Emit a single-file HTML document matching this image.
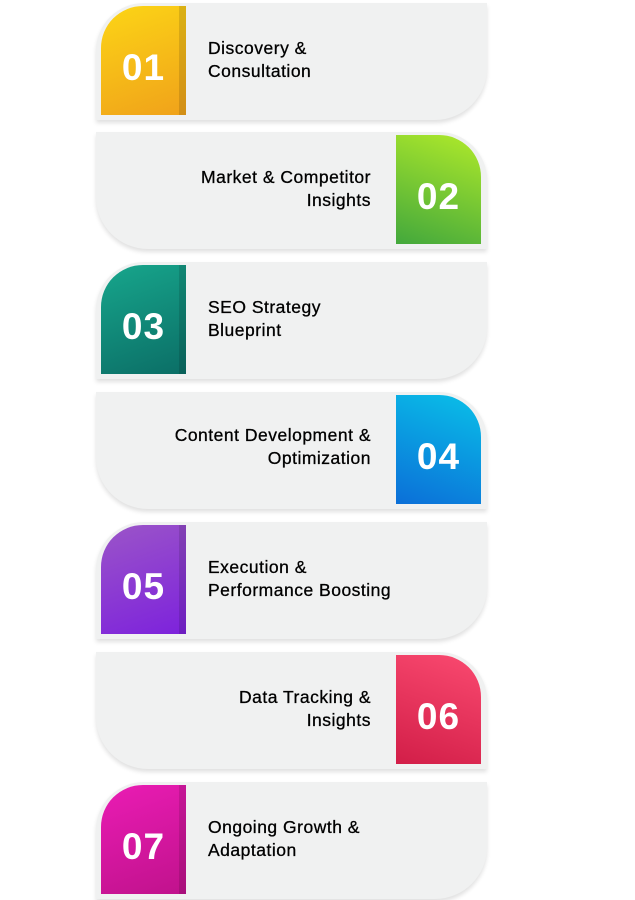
<!DOCTYPE html>
<html><head><meta charset="utf-8"><style>
html,body{margin:0;padding:0;background:#fff;overflow:hidden;}
body{width:635px;height:900px;position:relative;overflow:hidden;font-family:"Liberation Sans",sans-serif;}
.card{position:absolute;left:96px;width:391px;height:117px;background:#f0f1f1;box-shadow:0 3px 4px rgba(0,0,0,0.12);}
.odd{border-radius:48px 0 52px 0;}
.even{border-radius:0 48px 0 52px;}
.blk{position:absolute;width:85px;height:109px;color:#fff;font-weight:bold;font-size:37px;letter-spacing:1px;text-align:center;line-height:109px;}
.odd .blk{left:5px;top:3px;border-radius:42px 0 0 0;box-shadow:inset -7px 0 0 rgba(0,0,0,0.12);}
.even .blk{left:300px;top:3px;border-radius:0 42px 0 0;}
.blk span{position:relative;top:7px;}
.txt{position:absolute;font-size:17.5px;line-height:23px;color:#000;letter-spacing:0.5px;top:34px;-webkit-text-stroke:0.3px #000;}
.odd .txt{left:112px;text-align:left;}
.even .txt{right:116px;text-align:right;}
</style></head><body>
<div class="card odd" style="top:3px"><div class="blk" style="background:linear-gradient(160deg,#fcd516,#f0a21a)"><span>01</span></div><div class="txt">Discovery &amp;<br>Consultation</div></div>
<div class="card even" style="top:132px"><div class="blk" style="background:linear-gradient(200deg,#b0ea2a,#43a83c)"><span>02</span></div><div class="txt">Market &amp; Competitor<br>Insights</div></div>
<div class="card odd" style="top:262px"><div class="blk" style="background:linear-gradient(160deg,#17a68c,#0b6e66)"><span>03</span></div><div class="txt">SEO Strategy<br>Blueprint</div></div>
<div class="card even" style="top:392px"><div class="blk" style="background:linear-gradient(200deg,#0ac0e8,#0b6fd8)"><span>04</span></div><div class="txt" style="top:32px">Content Development &amp;<br>Optimization</div></div>
<div class="card odd" style="top:522px"><div class="blk" style="background:linear-gradient(160deg,#9b55c8,#7d22dc)"><span>05</span></div><div class="txt">Execution &amp;<br>Performance Boosting</div></div>
<div class="card even" style="top:652px"><div class="blk" style="background:linear-gradient(200deg,#fa4a70,#d21e48)"><span>06</span></div><div class="txt">Data Tracking &amp;<br>Insights</div></div>
<div class="card odd" style="top:782px"><div class="blk" style="background:linear-gradient(160deg,#ea1cb4,#c0128c)"><span>07</span></div><div class="txt">Ongoing Growth &amp;<br>Adaptation</div></div>
</body></html>
